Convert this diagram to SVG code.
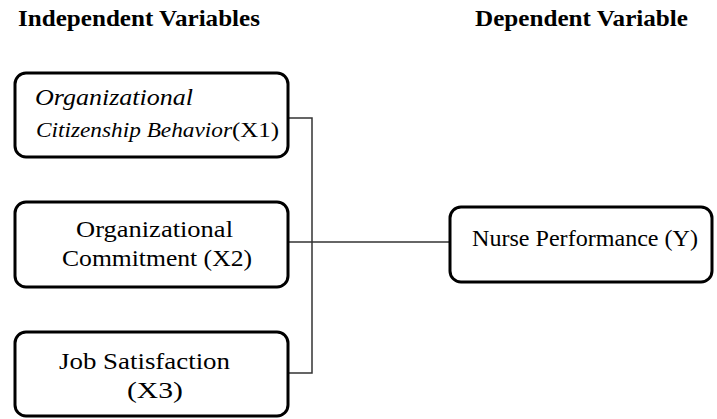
<svg xmlns="http://www.w3.org/2000/svg" width="717" height="419" viewBox="0 0 717 419">
<style>
.box{fill:#fff;stroke:#000;stroke-width:3}
.t{font-family:'Liberation Serif','Times New Roman',serif;font-size:23px;fill:#000}
.s{font-size:21px}
.h{font-family:'Liberation Serif','Times New Roman',serif;font-size:23px;font-weight:bold;fill:#000}
.c{fill:none;stroke:#333;stroke-width:1.5}
</style>
<rect width="717" height="419" fill="#fff"/>
<text class="h" x="18" y="26" textLength="242" lengthAdjust="spacingAndGlyphs">Independent Variables</text>
<text class="h" x="475" y="26" textLength="213" lengthAdjust="spacingAndGlyphs">Dependent Variable</text>
<g id="connectors">
<polyline class="c" points="288,118 312,118 312,373 288,373"/>
<line class="c" x1="288" y1="242" x2="450" y2="242"/>
</g>
<g id="x1">
<rect class="box" x="15" y="73" width="273" height="84" rx="11"/>
<text class="t" x="35" y="105" font-style="italic" textLength="158" lengthAdjust="spacingAndGlyphs">Organizational</text>
<text class="t s" x="36" y="137"><tspan font-style="italic" textLength="196" lengthAdjust="spacingAndGlyphs">Citizenship Behavior</tspan><tspan x="232" textLength="47" lengthAdjust="spacingAndGlyphs">(X1)</tspan></text>
</g>
<g id="x2">
<rect class="box" x="15" y="202" width="273" height="85" rx="11"/>
<text class="t" x="76" y="237" textLength="157" lengthAdjust="spacingAndGlyphs">Organizational</text>
<text class="t" x="62" y="266" textLength="190" lengthAdjust="spacingAndGlyphs">Commitment (X2)</text>
</g>
<g id="x3">
<rect class="box" x="15" y="332" width="273" height="84" rx="11"/>
<text class="t" x="59" y="369" textLength="171" lengthAdjust="spacingAndGlyphs">Job Satisfaction</text>
<text class="t" x="127" y="398" textLength="56" lengthAdjust="spacingAndGlyphs">(X3)</text>
</g>
<g id="y">
<rect class="box" x="450" y="207" width="262" height="75" rx="11"/>
<text class="t" x="472" y="246" textLength="226" lengthAdjust="spacingAndGlyphs">Nurse Performance (Y)</text>
</g>
</svg>
